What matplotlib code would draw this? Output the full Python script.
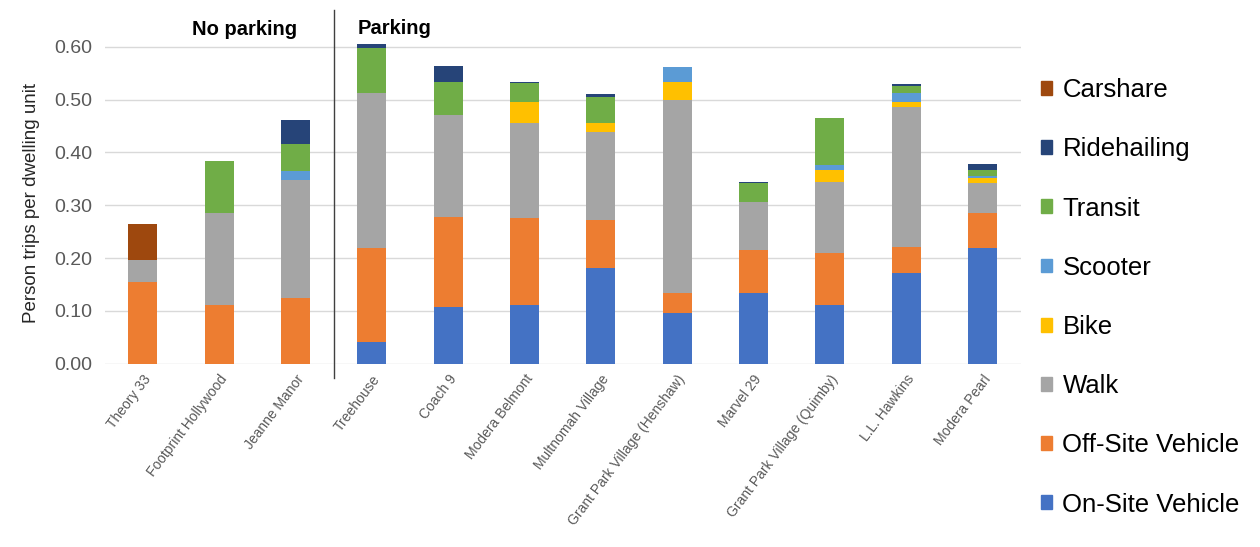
import numpy as np
import matplotlib.pyplot as plt
from matplotlib.patches import Patch

plt.rcParams['font.family'] = ['Liberation Sans', 'DejaVu Sans']

sites = ["Theory 33", "Footprint Hollywood", "Jeanne Manor", "Treehouse", "Coach 9",
         "Modera Belmont", "Multnomah Village", "Grant Park Village (Henshaw)",
         "Marvel 29", "Grant Park Village (Quimby)", "L.L. Hawkins", "Modera Pearl"]

# person trips per dwelling unit by mode, stacked bottom to top
on_site  = [0.000, 0.000, 0.000, 0.042, 0.108, 0.112, 0.181, 0.096, 0.134, 0.112, 0.172, 0.219]
off_site = [0.155, 0.112, 0.125, 0.177, 0.170, 0.164, 0.091, 0.038, 0.081, 0.098, 0.050, 0.066]
walk     = [0.042, 0.173, 0.223, 0.293, 0.193, 0.179, 0.167, 0.365, 0.091, 0.135, 0.264, 0.057]
bike     = [0.000, 0.000, 0.000, 0.000, 0.000, 0.041, 0.016, 0.034, 0.000, 0.022, 0.010, 0.009]
scooter  = [0.000, 0.000, 0.017, 0.000, 0.000, 0.000, 0.000, 0.029, 0.000, 0.009, 0.016, 0.004]
transit  = [0.000, 0.099, 0.051, 0.086, 0.062, 0.035, 0.050, 0.000, 0.036, 0.089, 0.014, 0.012]
ridehail = [0.000, 0.000, 0.045, 0.007, 0.031, 0.003, 0.005, 0.000, 0.003, 0.000, 0.004, 0.011]
carshare = [0.068, 0.000, 0.000, 0.000, 0.000, 0.000, 0.000, 0.000, 0.000, 0.000, 0.000, 0.000]

modes = ["On-Site Vehicle", "Off-Site Vehicle", "Walk", "Bike", "Scooter",
         "Transit", "Ridehailing", "Carshare"]
values = [on_site, off_site, walk, bike, scooter, transit, ridehail, carshare]
colors = ["#4472C4", "#ED7D31", "#A5A5A5", "#FFC000", "#5B9BD5",
          "#70AD47", "#264478", "#9E480E"]

fig = plt.figure(figsize=(12.6, 5.47), dpi=100)
ax = fig.add_axes([0.083, 0.335, 0.727, 0.589])

x = np.arange(len(sites))
bottom = np.zeros(len(sites))
for vals, col in zip(values, colors):
    ax.bar(x, vals, 0.38, bottom=bottom, color=col, zorder=3)
    bottom += np.array(vals)

ax.set_xlim(-0.5, 11.5)
ax.set_ylim(0, 0.61)
ax.set_yticks(np.arange(0, 0.61, 0.1))
ax.set_yticklabels([f"{v:.2f}" for v in np.arange(0, 0.61, 0.1)], fontsize=14, color="#595959")
ax.yaxis.grid(True, color="#d9d9d9", linewidth=1, zorder=0)
ax.tick_params(length=0)
ax.tick_params(axis="y", pad=9)
for s in ax.spines.values():
    s.set_visible(False)
ax.set_ylabel("Person trips per dwelling unit", fontsize=13.5, color="#262626", labelpad=10)

ax.set_xticks(x)
ax.set_xticklabels(sites, rotation=53, ha="right", rotation_mode="anchor",
                   fontsize=10, color="#595959")
ax.tick_params(axis="x", pad=6)

# divider between sites with and without parking
ax.plot([2.5, 2.5], [-0.027, 0.67], color="#404040", linewidth=1, clip_on=False, zorder=4)
ax.text(1.34, 0.632, "No parking", fontsize=14.5, fontweight="bold", ha="center", va="center")
ax.text(2.82, 0.635, "Parking", fontsize=14.5, fontweight="bold", ha="left", va="center")

handles = [Patch(color=c, label=m) for m, c in zip(modes, colors)][::-1]
fig.legend(handles=handles, loc="upper left", bbox_to_anchor=(0.8075, 0.8995),
           frameon=False, fontsize=18.5, handlelength=0.45, handleheight=0.45,
           handletextpad=0.4, labelspacing=1.37)

fig.savefig("out.png", dpi=100)
